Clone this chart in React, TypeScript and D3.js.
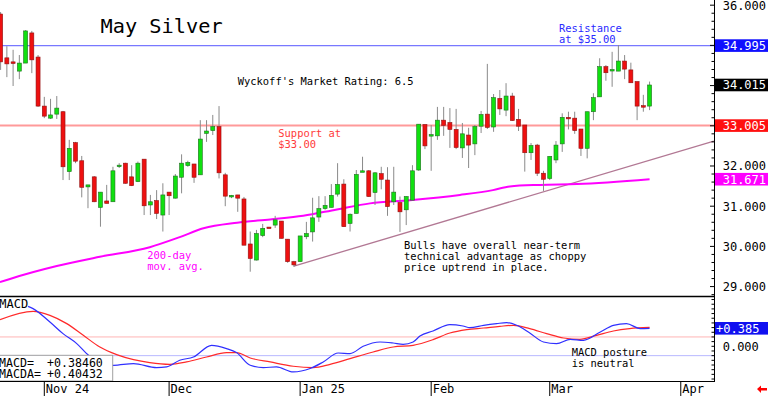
import React from 'react';
import * as d3 from 'd3';

// Bars: index 0 = Nov 1 2024; first bar index is -7
const FIRST_IDX = -7;
const OPEN = [35.78,34.69,34.59,34.36,34.56,35.31,34.71,
33.49,33.19,33.29,33.35,31.86,32.58,32.13,31.48,31.73,30.97,
31.13,31.11,32.00,32.07,31.73,31.61,32.17,31.03,31.14,30.78,
31.35,31.20,31.72,32.01,32.05,31.78,32.81,32.88,32.98,31.78,
31.23,31.28,31.18,30.06,29.66,30.27,30.48,30.53,30.63,30.18,
29.62,29.62,30.24,30.36,30.73,30.94,30.97,31.30,31.55,30.57,
30.82,31.86,31.88,31.34,31.81,31.65,31.11,31.09,30.91,31.15,
31.90,33.03,32.76,32.75,33.14,33.08,32.91,32.45,32.77,32.55,
32.99,33.29,32.97,33.68,33.39,33.74,33.16,33.02,32.33,32.52,
31.82,31.69,32.15,32.55,33.21,33.19,32.92,32.44,33.35,33.72,
34.47,34.38,34.36,34.61,34.39,34.10,33.50,33.49];
const HIGH = [35.83,34.98,34.89,34.76,35.38,35.36,34.76,
33.72,33.67,33.74,33.37,32.65,32.60,32.25,31.53,31.75,31.35,
31.53,31.98,32.07,32.08,32.02,32.11,32.17,31.28,31.40,31.57,
31.35,31.80,32.29,32.13,32.05,33.14,33.14,33.27,33.49,31.83,
31.28,31.28,31.23,30.37,30.41,30.56,30.48,30.76,30.63,30.18,
29.64,30.26,30.61,31.21,31.25,31.25,31.55,32.07,31.67,30.82,
31.90,32.23,31.90,31.85,31.98,31.97,31.98,31.24,31.25,32.02,
33.04,33.04,33.02,33.47,33.47,33.44,33.42,33.07,32.95,33.02,
33.37,34.54,33.79,33.89,34.06,33.82,33.42,33.02,32.57,32.55,
31.88,32.24,32.62,33.31,33.35,33.35,32.92,33.35,33.81,34.68,
34.51,34.84,35.01,34.76,34.57,34.10,33.77,34.10];
const LOW = [34.39,34.21,33.99,34.16,34.56,34.31,33.47,
33.19,33.17,33.17,31.65,31.65,32.07,31.22,30.95,31.10,30.49,
31.07,31.11,31.95,31.56,31.50,31.60,30.78,30.78,30.68,30.37,
30.78,31.19,31.32,31.98,31.58,31.78,32.60,32.77,31.69,31.00,
31.20,30.86,30.03,29.37,29.65,30.23,30.46,30.46,30.20,29.59,
29.49,29.61,30.18,30.12,30.61,30.91,30.97,31.24,30.49,30.37,
30.82,31.85,31.23,31.03,31.42,30.76,31.03,30.36,30.53,31.15,
31.88,32.42,31.88,32.65,32.75,32.45,32.42,32.20,31.95,32.27,
32.82,32.92,32.85,33.27,33.24,33.12,32.87,31.86,32.15,31.75,
31.38,31.65,32.07,32.35,32.91,32.80,32.25,32.19,33.14,33.72,
34.12,33.97,34.36,34.16,34.07,33.14,33.35,33.39];
const CLOSE = [34.59,34.54,34.55,34.56,35.36,34.64,33.49,
33.24,33.27,33.44,31.98,32.44,32.12,31.47,31.53,31.11,31.35,
31.07,31.88,32.02,31.57,31.51,32.07,31.01,31.11,30.82,31.28,
31.26,31.75,32.07,32.09,31.72,32.67,32.87,32.98,31.83,31.25,
31.27,31.20,30.03,29.70,30.32,30.45,30.46,30.66,30.20,29.62,
29.54,30.26,30.32,30.71,30.94,31.02,31.27,31.54,30.49,30.80,
31.79,31.88,31.24,31.83,31.67,30.99,31.35,30.86,31.24,31.88,
33.04,32.50,32.78,33.14,33.01,32.91,32.46,32.80,32.52,32.98,
33.28,32.96,33.70,33.42,33.74,33.13,32.99,32.33,32.51,31.82,
31.67,32.24,32.52,33.21,33.19,32.88,32.44,33.35,33.70,34.47,
34.32,34.40,34.61,34.41,34.07,33.49,33.48,34.015];

// 200-day moving average read at sample bars
const MA_IDX = [-7.1,-5.5,2.0,8.9,16.9,21.7,25.5,30.9,36.2,41.5,46.9,52.2,58.6,66.6,71.9,74.6,79.4,85.4,97];
const MA_VAL = [29.11,29.19,29.51,29.74,29.98,30.23,30.45,30.59,30.67,30.76,30.92,31.07,31.15,31.28,31.40,31.49,31.53,31.55,31.671];

// MACD (blue) and signal (red)
const MACD_IDX = [-2.6,-1.8,0.9,3.0,5.2,7.1,8.9,11.1,14.3,18.0,19.6,21.7,23.9,26.8,29.2,30.8,33.0,35.1,37.2,39.9,42.6,44.7,47.1,49.0,51.1,53.8,55.9,57.5,59.1,60.2,62.3,65.0,67.1,68.2,70.4,72.5,74.1,75.7,77.8,80.0,82.1,84.3,86.4,89.1,91.2,93.3,95.5,97];
const MACD_VAL = [0.855,0.806,0.519,0.271,0.058,-0.192,-0.32,-0.406,-0.370,-0.455,-0.442,-0.299,-0.229,0.021,-0.049,-0.135,-0.406,-0.455,-0.442,-0.549,-0.476,-0.335,-0.143,-0.156,0.0,0.092,0.071,0.043,0.092,0.22,0.327,0.464,0.434,0.40,0.449,0.485,0.506,0.449,0.284,0.092,0.058,0.150,0.128,0.306,0.449,0.485,0.378,0.385];
const SIG_IDX = [-7.1,-1.8,0.9,3.6,6.25,8.9,11.6,14.3,16.9,20.1,22.8,26.0,29.2,30.8,33.0,36.2,39.9,43.1,45.8,49.0,52.7,55.9,59.1,62.3,65.0,67.7,70.4,73.0,75.2,77.8,80.5,83.2,85.8,88.5,91.2,93.8,97];
const SIG_VAL = [0.571,0.748,0.662,0.485,0.235,-0.015,-0.177,-0.284,-0.348,-0.385,-0.335,-0.229,-0.135,-0.135,-0.25,-0.335,-0.427,-0.455,-0.385,-0.263,-0.122,-0.015,0.021,0.143,0.284,0.357,0.391,0.427,0.449,0.378,0.271,0.177,0.150,0.235,0.327,0.378,0.404];

const TREND_IDX = [40, 107.3];
const TREND_VAL = [29.51, 32.62];

const SUPPORT = 33.005;
const RESISTANCE = 34.995;
const MACD_BANDS = [0.2, -0.2];

const DATE_LABELS = ['Nov 24', 'Dec', 'Jan 25', 'Feb', 'Mar', 'Apr'];
const DATE_IDX = [0, 20, 41, 62, 81, 102];

const PRICE_LABELS = [36, 32, 31, 30, 29];
const BOX_VALUES = [34.995, 34.015, 33.005, 31.671];
const BOX_TEXT = ['34.995', '34.015', '33.005', '31.671'];
const BOX_COLORS = ['#1010ff', '#000000', '#ff1010', '#ff00ff'];
const MACD_LAST = 0.385;
const MACD_LEGEND = ['MACD=', 'MACDA='];
const MACD_LEGEND_VAL = ['+0.38460', '+0.40432'];

const MONO = "'DejaVu Sans Mono', monospace";
const PR = 714; // plot right edge
const MAIN_B = 296;
const MACD_B = 381;

export default function App() {
  const x = d3.scaleLinear().domain([0, 97]).range([44.3, 44.3 + 97 * 6.24]);
  const y = d3.scaleLinear().domain([36.129, 28.766]).range([0, MAIN_B]);
  const ym = d3.scaleLinear().domain([0, 0.385]).range([346.3, 328.3]);

  const bars = OPEN.map((o, i) => ({ i: FIRST_IDX + i, o, h: HIGH[i], l: LOW[i], c: CLOSE[i] }));
  const bw = 4;

  const maLine = d3.line<number>().x((_, k) => x(MA_IDX[k])).y((v) => y(v)).curve(d3.curveMonotoneX)(MA_VAL) || '';
  const macdLine = d3.line<number>().x((_, k) => x(MACD_IDX[k])).y((v) => ym(v)).curve(d3.curveMonotoneX)(MACD_VAL) || '';
  const sigLine = d3.line<number>().x((_, k) => x(SIG_IDX[k])).y((v) => ym(v)).curve(d3.curveMonotoneX)(SIG_VAL) || '';

  const mainTicks = d3.range(144, 181).map((k) => k * 0.2);
  const macdTicks = d3.range(-7, 11).map((k) => k * 0.1);

  const annot = (lines: string[], x0: number, y0: number, color: string) =>
    lines.map((t, k) => (
      <text key={t} x={x0} y={y0 + k * 11} fill={color} fontFamily={MONO} fontSize={10.45} style={{ whiteSpace: 'pre' }}>{t}</text>
    ));

  return (
    <svg width={768} height={396} style={{ position: 'absolute', left: 0, top: 0, background: '#fff' }}>
      <defs>
        <clipPath id="mainClip"><rect x={0} y={0} width={PR} height={MAIN_B} /></clipPath>
        <clipPath id="macdClip"><rect x={0} y={MAIN_B} width={PR} height={MACD_B - MAIN_B} /></clipPath>
      </defs>
      <rect x={0} y={0} width={768} height={396} fill="#fff" />

      <g clipPath="url(#mainClip)">
        <line x1={0} x2={PR} y1={y(RESISTANCE)} y2={y(RESISTANCE)} stroke="#7878ff" strokeWidth={1.3} />
        <line x1={0} x2={PR} y1={y(SUPPORT)} y2={y(SUPPORT)} stroke="#ff9a9a" strokeWidth={2} />
        <line x1={x(TREND_IDX[0])} x2={x(TREND_IDX[1])} y1={y(TREND_VAL[0])} y2={y(TREND_VAL[1])} stroke="#b27894" strokeWidth={1.3} />
        <path d={maLine} fill="none" stroke="#ff00ff" strokeWidth={2} />
        {bars.map((b) => {
          const cx = x(b.i);
          const up = b.c >= b.o;
          const top = y(Math.max(b.o, b.c));
          const bh = Math.max(1.5, Math.abs(y(b.o) - y(b.c)));
          return (
            <g key={b.i}>
              <line x1={cx} x2={cx} y1={y(b.h)} y2={y(b.l)} stroke="#8a8a8a" strokeWidth={1} />
              <rect x={cx - bw / 2} y={top} width={bw} height={bh}
                fill={up ? '#10e010' : '#ee1010'} stroke={up ? '#207020' : '#901010'} strokeWidth={0.6} />
            </g>
          );
        })}
      </g>

      {/* Title and annotations */}
      <text x={100.5} y={32.7} fontFamily={MONO} fontSize={20.3} fill="#000" style={{ whiteSpace: 'pre' }}>May Silver</text>
      {annot(["Wyckoff's Market Rating: 6.5"], 237.7, 85, '#000')}
      {annot(['Resistance', 'at $35.00'], 559, 32.3, '#2a2aff')}
      {annot(['Support at', '$33.00'], 278.3, 136.7, '#ff3a3a')}
      {annot(['200-day', 'mov. avg.'], 147.3, 259, '#ff00ff')}
      {annot(['Bulls have overall near-term', 'technical advantage as choppy', 'price uptrend in place.'], 404, 249, '#000')}

      {/* MACD panel */}
      <g clipPath="url(#macdClip)">
        {MACD_BANDS.map((v, k) => (
          <line key={v} x1={0} x2={PR} y1={ym(v)} y2={ym(v)} stroke={k === 0 ? '#ffb4b4' : '#b8b8ff'} strokeWidth={1} />
        ))}
        <path d={sigLine} fill="none" stroke="#ff2a2a" strokeWidth={1.2} />
        <path d={macdLine} fill="none" stroke="#3030ff" strokeWidth={1.2} />
      </g>
      <text x={-0.8} y={307.5} fontFamily={MONO} fontSize={12} fill="#000">MACD</text>
      {annot(['MACD posture', 'is neutral'], 571.7, 355.5, '#000')}
      <rect x={-1} y={355.3} width={113.7} height={25.7} fill="#fff" stroke="#a0a0a0" strokeWidth={1} />
      {MACD_LEGEND.map((t, k) => (
        <g key={t}>
          <text x={-1} y={366.5 + k * 11.8} fontFamily={MONO} fontSize={11.6} fill="#000">{t}</text>
          <text x={47} y={366.5 + k * 11.8} fontFamily={MONO} fontSize={11.6} fill="#000">{MACD_LEGEND_VAL[k]}</text>
        </g>
      ))}

      {/* frame */}
      <line x1={0} x2={PR} y1={MAIN_B + 0.5} y2={MAIN_B + 0.5} stroke="#000" strokeWidth={1.3} />
      <line x1={0} x2={PR} y1={MACD_B + 0.5} y2={MACD_B + 0.5} stroke="#000" strokeWidth={1} />
      <line x1={PR + 0.5} x2={PR + 0.5} y1={0} y2={MACD_B + 1} stroke="#000" strokeWidth={1} />

      {/* right axis ticks */}
      {mainTicks.map((v) => {
        const major = Math.abs(v - Math.round(v)) < 1e-6;
        return <line key={'mt' + v} x1={PR - (major ? 4 : 2.5)} x2={PR} y1={y(v)} y2={y(v)} stroke="#000" strokeWidth={1} />;
      })}
      {macdTicks.map((v) => (
        <line key={'ct' + v} x1={PR - 2.5} x2={PR} y1={ym(v)} y2={ym(v)} stroke="#000" strokeWidth={1} />
      ))}
      {PRICE_LABELS.map((v) => (
        <text key={'pl' + v} x={722.7} y={y(v)} dy="0.36em" fontFamily={MONO} fontSize={12} fill="#000">{v.toFixed(3)}</text>
      ))}
      <text x={722.7} y={ym(0)} dy="0.36em" fontFamily={MONO} fontSize={12} fill="#000">0.000</text>
      {BOX_VALUES.map((v, k) => (
        <g key={'bx' + v}>
          <rect x={715} y={y(v) - 6.3} width={53} height={12.6} fill={BOX_COLORS[k]} />
          <text x={722.7} y={y(v)} dy="0.36em" fontFamily={MONO} fontSize={12} fill="#fff">{BOX_TEXT[k]}</text>
        </g>
      ))}
      <rect x={715} y={ym(MACD_LAST) - 6.3} width={53} height={12.6} fill="#1010f0" />
      <text x={716} y={ym(MACD_LAST)} dy="0.36em" fontFamily={MONO} fontSize={12} fill="#fff">+{MACD_LAST.toFixed(3)}</text>

      {/* date axis */}
      {DATE_IDX.map((d, k) => (
        <g key={'d' + d}>
          <line x1={x(d)} x2={x(d)} y1={MACD_B + 1} y2={396} stroke="#000" strokeWidth={1} />
          <text x={x(d) + 1.5} y={393} fontFamily={MONO} fontSize={12} fill="#000" style={{ whiteSpace: 'pre' }}>{DATE_LABELS[k]}</text>
        </g>
      ))}

      {/* red arrow */}
      <polygon points="757,389 761,385.5 761,388 767,388 767,390.5 761,390.5 761,393" fill="#ff0000" />
    </svg>
  );
}
